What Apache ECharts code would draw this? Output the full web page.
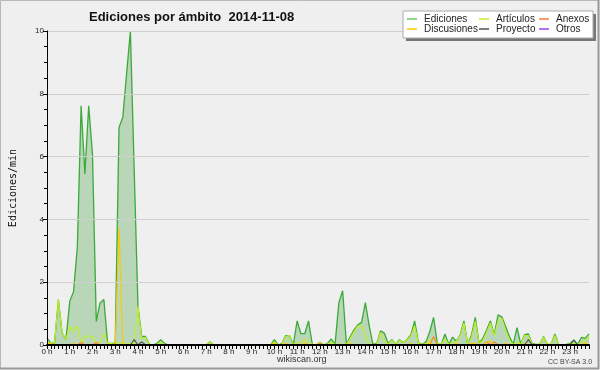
<!DOCTYPE html>
<html><head><meta charset="utf-8">
<script src="https://cdn.jsdelivr.net/npm/echarts@6/dist/echarts.min.js"></script>
<style>html,body{margin:0;padding:0;background:#efefef}#c{width:600px;height:370px}</style>
</head><body><div id="c"></div>
<script>
// Tick labels (one per hour; the axis has one category per 10 minutes)
const hourLabels = ['0 h','1 h','2 h','3 h','4 h','5 h','6 h','7 h','8 h','9 h','10 h','11 h',
  '12 h','13 h','14 h','15 h','16 h','17 h','18 h','19 h','20 h','21 h','22 h','23 h'];
const minuteSteps = ['00','10','20','30','40','50'];
const seriesNames = ['Ediciones','Artículos','Anexos','Discusiones','Proyecto','Otros'];

// Values (ediciones/min), one per 10-minute slot
const ediciones = [
 0.22,0.07,0.07,1.45,0.38,0.18,1.39,1.7,3.1,7.62,5.45,7.62,
 6.08,0.75,1.34,1.45,0.05,0.05,0.05,6.93,7.25,8.64,10,5.6,
 1.25,0.27,0.27,0.02,0,0.05,0.17,0.05,0,0,0,0,
 0,0,0,0,0,0,0,0.1,0,0,0,0,
 0,0,0,0,0,0,0,0,0,0,0,0,
 0.17,0,0.05,0.3,0.3,0.02,0.77,0.36,0.36,0.77,0.02,0,
 0.09,0,0.05,0.19,0.02,1.34,1.73,0.03,0.26,0.48,0.64,0.72,
 1.35,0.62,0.02,0.05,0.45,0.38,0.05,0.17,0.02,0.17,0.08,0.17,
 0.32,0.77,0.08,0.02,0.1,0.43,0.88,0.05,0.02,0.35,0.02,0.25,
 0.12,0.32,0.77,0.03,0.32,0.88,0.06,0.22,0.48,0.77,0.32,0.96,
 0.9,0.59,0.27,0.02,0.55,0.03,0.33,0.35,0.05,0.02,0.02,0.27,
 0.02,0.02,0.35,0.02,0,0.02,0.05,0.16,0.02,0.24,0.21,0.35];
const articulos = [
 0.07,0.07,0.07,1.45,0.38,0.18,0.6,0.42,0.6,0.05,0.28,0.28,
 0.28,0.05,0.1,0.37,0.05,0.05,0.07,0.07,0.07,0.02,0.05,0.05,
 1.23,0.2,0.25,0,0,0.02,0.1,0.02,0,0,0,0,
 0,0,0,0,0,0,0,0.1,0,0,0,0,
 0,0,0,0,0,0,0,0,0,0,0,0,
 0.1,0,0.03,0.27,0.3,0.02,0.05,0.1,0.17,0.1,0.02,0,
 0.08,0,0.03,0.1,0.02,0.02,0.02,0.02,0.2,0.42,0.6,0.62,
 0.3,0.02,0,0.03,0.4,0.15,0.03,0.15,0.02,0.15,0.08,0.15,
 0.28,0.6,0.05,0.02,0.05,0.15,0.22,0.05,0.02,0.2,0.02,0.1,
 0.1,0.3,0.7,0.03,0.25,0.75,0.05,0.15,0.4,0.7,0.3,0.75,
 0.85,0.45,0.15,0.02,0.1,0.02,0.3,0.3,0.02,0.02,0.02,0.25,
 0.02,0.02,0.3,0.02,0,0.02,0.02,0.05,0.02,0.1,0.15,0.3];
const anexos = [
 0,0,0,0,0,0,0,0,0,0.08,0,0,
 0,0.08,0,0,0,0,0,0,0,0,0,0,
 0,0,0,0,0,0,0,0,0,0,0,0,
 0,0,0,0,0,0,0,0,0,0,0,0,
 0,0,0,0,0,0,0,0,0,0,0,0,
 0,0,0,0,0,0,0,0,0,0,0,0,
 0.05,0,0,0,0,0,0,0,0,0,0,0,
 0,0,0,0,0,0,0,0,0,0,0,0,
 0,0,0,0,0,0,0.27,0,0,0,0,0,
 0,0,0,0,0,0,0,0,0.1,0,0.1,0,
 0,0,0,0,0,0,0,0,0,0,0,0,
 0,0,0,0,0,0,0,0,0,0,0,0];
const discusiones = [
 0.05,0.05,0,0,0,0,0,0.05,0,0,0,0,
 0,0,0,0,0,0,0,3.73,0,0,0,0,
 0,0,0,0,0,0,0,0,0,0,0,0,
 0,0,0,0,0,0,0,0,0,0,0,0,
 0,0,0,0,0,0,0,0,0,0,0,0,
 0.05,0,0,0.05,0,0,0,0,0.07,0,0,0,
 0,0,0,0,0,0,0,0,0.05,0,0,0,
 0,0,0,0,0,0,0,0,0,0,0,0,
 0.05,0,0,0,0,0.07,0,0,0,0,0,0,
 0.05,0,0,0,0.05,0.05,0,0,0.1,0.12,0,0,
 0,0.05,0,0,0,0,0.05,0,0,0,0,0,
 0,0,0,0,0,0,0,0,0,0,0.07,0];
const proyecto = [
 0,0,0,0,0,0,0,0,0,0,0,0,
 0,0,0,0,0,0,0,0,0,0,0,0.17,
 0,0.1,0,0,0,0,0,0,0,0,0,0,
 0,0,0,0,0,0,0,0,0,0,0,0,
 0,0,0,0,0,0,0,0,0,0,0,0,
 0,0,0,0,0,0,0,0,0,0,0,0,
 0,0,0,0,0,0,0,0,0,0,0,0,
 0,0,0,0,0,0,0,0,0,0,0,0,
 0,0,0,0,0,0,0,0,0,0,0,0,
 0,0,0,0,0,0,0,0,0,0,0,0,
 0,0,0,0,0,0,0,0.17,0,0,0,0,
 0,0,0,0,0,0,0,0.16,0,0,0,0];
const otros = [
 0,0,0,0,0,0,0,0,0,0,0,0, 0,0,0,0,0,0,0,0,0,0,0,0,
 0,0,0,0,0,0,0,0,0,0,0,0, 0,0,0,0,0,0,0,0,0,0,0,0,
 0,0,0,0,0,0,0,0,0,0,0,0, 0,0,0,0,0,0,0,0,0,0,0,0,
 0,0,0,0,0,0,0,0,0,0,0,0, 0,0,0,0,0,0,0,0,0,0,0,0,
 0,0,0,0,0,0,0,0,0,0,0,0, 0,0,0,0,0,0,0,0,0,0,0,0,
 0,0,0,0,0,0,0,0,0,0,0,0, 0,0,0,0,0,0,0,0,0,0,0,0];

// categories: one per 10 minutes
const categories = [];
hourLabels.forEach(h => minuteSteps.forEach(m => categories.push(h + ':' + m)));

const lineColors = ['#3aaa3a','#c4f020','#ff7a3a','#ffc800','#505050','#a040ff'];
const legendColors = ['#66cc66','#c4f020','#ff7a3a','#ffc800','#505050','#a040ff'];
const values = [ediciones, articulos, anexos, discusiones, proyecto, otros];

const FONT = '"Liberation Sans", Arial, sans-serif';
const legendPos = [[407,14],[479,14],[539,14],[407,24],[479,24],[539,24]];

const chart = echarts.init(document.getElementById('c'), null, {renderer:'canvas'});
chart.setOption({
  backgroundColor: '#efefef',
  animation: false,
  title: {
    text: 'Ediciones por ámbito  2014-11-08',
    left: 84, top: 6,
    textStyle: {fontFamily: FONT, fontSize: 13, fontWeight: 'bold', color: '#111'}
  },
  legend: seriesNames.map((n, i) => ({
    data: [{name: n, itemStyle: {color: legendColors[i]}}],
    left: legendPos[i][0], top: legendPos[i][1], z: 50,
    orient: 'horizontal', padding: 0,
    icon: 'rect', itemWidth: 10, itemHeight: 1.5,
    selectedMode: false,
    textStyle: {fontFamily: FONT, fontSize: 10, color: '#222', padding: [0,0,0,2], lineHeight: 10}
  })),
  grid: {left: 45, right: 11, top: 31, bottom: 25, containLabel: false},
  xAxis: {
    type: 'category', data: categories, boundaryGap: false, z: 5,
    axisLine: {lineStyle: {color: '#000', width: 2}},
    axisTick: {show: true, interval: 0, length: 4, lineStyle: {color: '#000'}},
    axisLabel: {
      interval: 0, margin: 3, color: '#222', fontFamily: FONT, fontSize: 8,
      formatter: (v, i) => (i % 6 === 0 ? hourLabels[i / 6] : '')
    },
    splitLine: {show: false}
  },
  yAxis: {
    type: 'value', min: 0, max: 10, interval: 2, z: 5,
    name: 'Ediciones/min', nameLocation: 'middle', nameGap: 29, nameRotate: 90,
    nameTextStyle: {fontFamily: '"DejaVu Sans Mono", monospace', fontSize: 10, color: '#111'},
    axisLine: {show: true, lineStyle: {color: '#000'}},
    axisTick: {show: true, length: 4, lineStyle: {color: '#000'}},
    minorTick: {show: true, splitNumber: 4, length: 3, lineStyle: {color: '#000'}},
    axisLabel: {margin: 3, color: '#222', fontFamily: FONT, fontSize: 8},
    splitLine: {show: true, lineStyle: {color: '#cfcfcf', width: 1}}
  },
  series: seriesNames.map((n, i) => ({
    name: n, type: 'line', data: values[i], symbol: 'none', z: 2 + (i === 0 ? 0 : 1),
    itemStyle: {color: legendColors[i]},
    lineStyle: {color: lineColors[i], width: i === 0 ? 1.3 : 1.1},
    areaStyle: i === 0 ? {color: 'rgba(70,160,70,0.45)'} : undefined
  })),
  graphic: [
    {type: 'rect', z: 10, silent: true, shape: {x: 406, y: 14, width: 190, height: 27},
     style: {fill: '#777', stroke: null}},
    {type: 'rect', z: 11, silent: true, shape: {x: 403, y: 11, width: 190, height: 27},
     style: {fill: '#fff', stroke: '#aaa', lineWidth: 1}},
    {type: 'text', z: 10, left: 277, top: 355,
     style: {text: 'wikiscan.org', fontFamily: FONT, fontSize: 9, fill: '#333'}},
    {type: 'text', z: 10, left: 548, top: 359,
     style: {text: 'CC BY-SA 3.0', fontFamily: FONT, fontSize: 7, fill: '#444'}},
    {type: 'rect', z: 0, silent: true, shape: {x: 0.5, y: 0.5, width: 598, height: 368},
     style: {fill: null, stroke: '#b8b8b8', lineWidth: 1}},
    {type: 'line', z: 0, silent: true, shape: {x1: 598.5, y1: 0, x2: 598.5, y2: 369}, style: {stroke: '#999', lineWidth: 2}},
    {type: 'line', z: 0, silent: true, shape: {x1: 0, y1: 368.5, x2: 599, y2: 368.5}, style: {stroke: '#999', lineWidth: 2}}
  ]
});
</script>
</body></html>
